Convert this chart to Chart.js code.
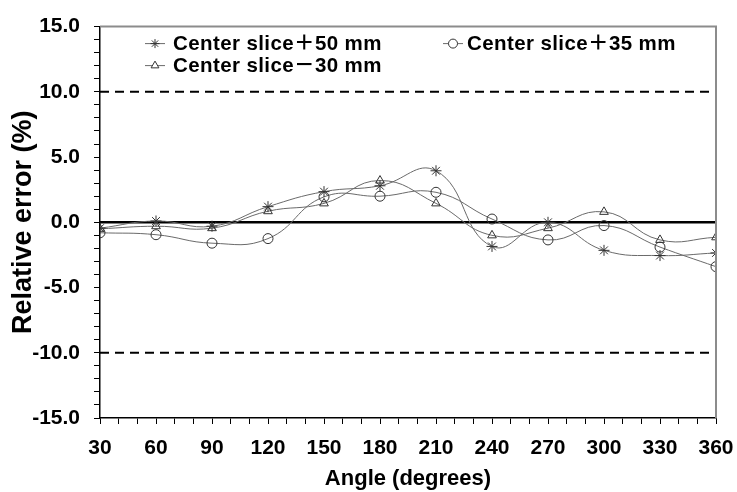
<!DOCTYPE html>
<html>
<head>
<meta charset="utf-8">
<script src="https://cdn.jsdelivr.net/npm/chart.js@4.4.0/dist/chart.umd.min.js"></script>
<style>
  html, body { margin: 0; padding: 0; background: #fff; }
  #wrap { width: 737px; height: 492px; }
</style>
</head>
<body>
<div id="wrap"><canvas id="chartError" width="737" height="492"></canvas></div>
<script>
// angles (degrees) on x
const angles = [30, 60, 90, 120, 150, 180, 210, 240, 270, 300, 330, 360];
// relative error (%)
const slicePlus50 = [-0.45, 0.1, -0.3, 1.2, 2.35, 2.8, 3.95, -1.85, 0.0, -2.15, -2.55, -2.35];
const slicePlus35 = [-0.8, -0.95, -1.6, -1.25, 1.95, 2.0, 2.3, 0.25, -1.35, -0.25, -1.9, -3.4];
const sliceMinus30 = [-0.5, -0.3, -0.45, 0.85, 1.45, 3.2, 1.45, -1.0, -0.45, 0.8, -1.35, -1.15];
const seriesLabels = ["Center slice＋50 mm", "Center slice＋35 mm", "Center slice－30 mm"];
const seriesMarkers = ["star", "circle", "triangle"];
const limitLevels = [10, -10];
const zeroLevel = 0;

const fontFamily = "'Liberation Sans', Arial, 'Noto Sans CJK SC', sans-serif";
const lineGrey = "#6a6a6a";
const markGrey = "#333333";

const toPoints = (vals) => vals.map((v, i) => ({ x: angles[i], y: v }));
const flatLine = (level) => [
  { x: angles[0], y: level },
  { x: angles[angles.length - 1], y: level },
];

/** legend inside the plot, two items on the first row, one on the second */
const legendInPlot = {
  id: "legendInPlot",
  afterDraw(chart) {
    const { ctx, chartArea } = chart;
    // marker x, text x, row y (from the plot's top-left corner)
    const spots = [
      [55, 73, 17],
      [353, 367, 17],
      [55, 73, 39],
    ];
    ctx.save();
    ctx.font = "bold 20.5px " + fontFamily;
    ctx.textBaseline = "middle";
    ctx.textAlign = "left";
    for (let i = 0; i < 3; i++) {
      const ds = chart.data.datasets[i];
      const x = chartArea.left + spots[i][0];
      const y = chartArea.top + spots[i][2];
      ctx.strokeStyle = lineGrey;
      ctx.lineWidth = 1;
      ctx.beginPath();
      ctx.moveTo(x - 10, y);
      ctx.lineTo(x + 10, y);
      ctx.stroke();
      ctx.strokeStyle = markGrey;
      ctx.fillStyle = "#fff";
      Chart.helpers.drawPoint(
        ctx,
        { pointStyle: ds.pointStyle, radius: 4.5, rotation: 0, borderWidth: 1 },
        x,
        y
      );
      ctx.fillStyle = "#000";
      ctx.letterSpacing = "0.4px";
      ctx.fillText(ds.label, chartArea.left + spots[i][1], y + 1);
      ctx.letterSpacing = "0px";
    }
    ctx.restore();
  },
};

/** grey frame on top and right of the plot */
const plotFrame = {
  id: "plotFrame",
  afterDraw(chart) {
    const { ctx, chartArea } = chart;
    ctx.save();
    ctx.strokeStyle = "#8c8c8c";
    ctx.lineWidth = 2;
    ctx.beginPath();
    ctx.moveTo(chartArea.left, chartArea.top);
    ctx.lineTo(chartArea.right, chartArea.top);
    ctx.lineTo(chartArea.right, chartArea.bottom);
    ctx.stroke();
    ctx.restore();
  },
};

const seriesValues = [slicePlus50, slicePlus35, sliceMinus30];
const seriesSets = seriesValues.map((vals, i) => ({
  label: seriesLabels[i],
  data: toPoints(vals),
  borderColor: lineGrey,
  borderWidth: 1,
  pointStyle: seriesMarkers[i],
  pointRadius: i === 0 ? 5.5 : 5,
  pointBorderColor: markGrey,
  pointBackgroundColor: "rgba(255,255,255,0)",
  pointBorderWidth: 1,
  tension: 0.45,
  fill: false,
  order: 1,
}));

const limitSets = limitLevels.map((lv) => ({
  label: "limit " + lv,
  data: flatLine(lv),
  borderColor: "#000",
  borderWidth: 2,
  borderDash: [9, 6],
  pointRadius: 0,
  fill: false,
  order: 2,
}));

const zeroSet = {
  label: "zero",
  data: flatLine(zeroLevel),
  borderColor: "#000",
  borderWidth: 2.5,
  pointRadius: 0,
  fill: false,
  order: 2,
};

const chart = new Chart(document.getElementById("chartError").getContext("2d"), {
  type: "line",
  plugins: [legendInPlot, plotFrame],
  data: {
    datasets: [...seriesSets, ...limitSets, zeroSet],
  },
  options: {
    responsive: false,
    devicePixelRatio: 1,
    animation: false,
    layout: {
      padding: { top: 25, right: 21, left: 0, bottom: 0 },
    },
    plugins: {
      legend: { display: false },
      tooltip: { enabled: false },
    },
    scales: {
      x: {
        type: "linear",
        min: 30,
        max: 360,
        afterFit: (scale) => {
          scale.height = 74;
          scale.paddingLeft = 0;
          scale.paddingRight = 0;
        },
        grid: {
          drawOnChartArea: false,
          tickLength: 6,
          tickColor: "#000",
        },
        border: { color: "#000", width: 1.5 },
        ticks: {
          stepSize: 10,
          autoSkip: false,
          maxRotation: 0,
          padding: 12,
          color: "#000",
          font: { family: fontFamily, size: 21, weight: "bold" },
          callback: (v) => (v % 30 === 0 ? v : ""),
        },
        title: {
          display: true,
          text: "Angle (degrees)",
          color: "#000",
          font: { family: fontFamily, size: 22, weight: "bold", lineHeight: 1 },
          padding: { top: 0, bottom: 2 },
        },
      },
      y: {
        min: -15,
        max: 15,
        afterFit: (scale) => {
          scale.width = 100;
        },
        grid: {
          drawOnChartArea: false,
          tickLength: 6,
          tickColor: "#000",
        },
        border: { color: "#000", width: 1.5 },
        ticks: {
          stepSize: 1,
          autoSkip: false,
          padding: 14,
          color: "#000",
          font: { family: fontFamily, size: 21, weight: "bold" },
          callback: (v) => (v % 5 === 0 ? v.toFixed(1) : ""),
        },
        title: {
          display: true,
          text: "Relative error (%)",
          color: "#000",
          font: { family: fontFamily, size: 27, weight: "bold", lineHeight: 1 },
          padding: { top: 10, bottom: 0 },
        },
      },
    },
  },
});
</script>
</body>
</html>
